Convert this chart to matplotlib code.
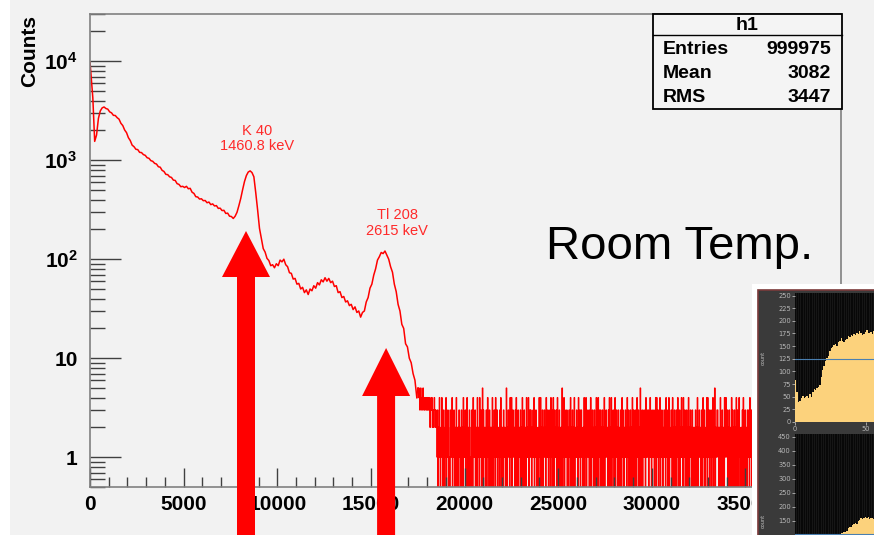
import numpy as np
import matplotlib
matplotlib.use('Agg')
import matplotlib.pyplot as plt
from matplotlib.patches import Rectangle, Polygon
from matplotlib.ticker import FixedLocator, NullFormatter

# ---- main spectrum (counts per bin), 100 channel bins from 0 to 17400
bin_width = 100
spectrum = [
    9800, 4300, 1550, 1800, 2650, 3150, 3380, 3450, 3330, 3280,
    3080, 3010, 2840, 2830, 2690, 2600, 2360, 2240, 2020, 1900,
    1690, 1580, 1420, 1370, 1290, 1280, 1200, 1195, 1140, 1120,
    1060, 1045, 990, 975, 930, 915, 860, 850, 790, 770,
    720, 715, 680, 670, 630, 625, 580, 570, 540, 545,
    530, 545, 515, 520, 475, 462, 428, 425, 405, 408,
    390, 392, 372, 378, 356, 362, 345, 348, 326, 328,
    310, 312, 290, 292, 272, 270, 258, 272, 298, 348,
    412, 505, 610, 700, 760, 780, 750, 680, 470, 315,
    205, 162, 128, 118, 102, 97, 86, 88, 82, 90,
    86, 98, 94, 100, 88, 84, 73, 72, 63, 64,
    56, 57, 50, 52, 46, 49, 44, 50, 48, 54,
    51, 58, 55, 62, 59, 65, 60, 64, 58, 60,
    53, 54, 46, 47, 41, 42, 37, 38, 34, 35,
    31, 33, 29, 30, 26, 29, 30, 37, 41, 51,
    56, 69, 80, 98, 106, 117, 114, 121, 110, 100,
    84, 74, 56, 47, 35, 30, 22, 20, 14, 13,
    10, 9, 7, 6, 4,
]

# ---- tail, 25 channel bins from 17500 (counts read as single digits)
tail_start = 17500
tail_width = 25
tail_counts = (
    "5454345344354343443434334323434232343232"
    "21302142012410231021402132010321240123102140212032"
    "12031204121302140120321013204121301204121042130150"
    "31210230142103120214012310421302120314021203121025"
    "02132104124013212031402130121302140213012041214023"
    "13201231402132012104124021301231204131203120413014"
    "20312130421031201250214031213012032140213021401213"
    "12041230132102140214012312031402132013021402140321"
    "30213012402132120314021402132014023120312013204132"
    "02131204213012302140312031204213021502130123120413"
    "21302141203121302140421302140213201231204132014021"
    "13204120312031240213021412042130213021402132013021"
    "02130214012312013204213012140421302130214021502123"
    "31202140213012041242130213012041302130214031204120"
    "12031402130120321304213021402140312013021402130212"
    "20413021301203124021402132014021302150213402130120"
    "13021302140213120321402130213012340214021302130214"
    "02130214021402130125021302130214031204120213021403"
    "21304213021402140213021302132014021402130213021302"
)

# ---- peak labels
peak_names = ["K 40\n1460.8 keV", "Tl 208\n2615 keV"]
peak_label_x = [8920, 16400]
peak_label_y = [1650, 232]
arrow_x = [8330, 15810]

# ---- stats box
stats_title = "h1"
stats_names = ["Entries", "Mean", "RMS"]
stats_values = ["999975", "3082", "3447"]

# ---- inset (second picture, two histograms)
inset_top = [84, 60, 40, 42, 48, 52, 47, 50, 52, 48, 55, 50, 60, 65, 64, 68,
             70, 74, 88, 102, 110, 120, 126, 130, 140, 146, 148, 152, 155,
             150, 158, 160, 167, 160, 158, 162, 165, 170, 168, 172, 170, 173,
             172, 175, 174, 180, 176, 172, 174, 178, 181, 176, 175, 178, 174,
             180]
inset_bottom = [12, 20, 25, 28, 30, 34, 36, 40, 42, 45, 48, 50, 52, 55, 58,
                60, 62, 66, 68, 70, 72, 75, 78, 82, 85, 88, 92, 95, 98, 100,
                102, 104, 106, 108, 110, 112, 115, 125, 130, 128, 135, 140,
                143, 138, 150, 155, 160, 158, 162, 165, 160, 163, 158, 160,
                162, 158]
inset_top_line = 125
inset_bottom_line = 105

plt.rcParams['mathtext.fontset'] = 'custom'
plt.rcParams['mathtext.bf'] = 'Liberation Sans:bold'
plt.rcParams['mathtext.rm'] = 'Liberation Sans:bold'

W, H = 874, 535
fig = plt.figure(figsize=(W / 100, H / 100), dpi=100, facecolor='#f2f2f2')
fig.patches.append(Rectangle((0, 0), 10 / W, 1, transform=fig.transFigure,
                             facecolor='white', edgecolor='none', zorder=0))


def fx(px):
    return px / W


def fy(py):
    return 1 - py / H


ax = fig.add_axes([fx(90), fy(487), fx(841) - fx(90), fy(14) - fy(487)])
ax.set_facecolor('#f2f2f2')

# smooth part as a line through bin centres, noisy tail as histogram steps
centers = np.arange(len(spectrum)) * bin_width + bin_width / 2
centers[0] = 0
ax.plot(centers, spectrum, color='red', lw=1.1)
tail = np.array([int(c) for c in tail_counts], dtype=float)
tail_edges = tail_start + np.arange(len(tail) + 1) * tail_width
tail = np.where(tail > 0, tail, 0.05)
ax.stairs(tail, tail_edges, color='red', lw=0.9, baseline=None)
ax.plot([centers[-1], tail_start], [spectrum[-1], tail[0]], color='red',
        lw=1.0)

ax.set_yscale('log')
ax.set_xlim(0, 40100)
ax.set_ylim(0.5, 3.0e4)

for s in ax.spines.values():
    s.set_color('#808080')
    s.set_linewidth(1.2)

bold = dict(family='Liberation Sans', weight='bold', size=15)
ax.set_xticks(np.arange(0, 35001, 5000))
ax.set_xticklabels([str(v) for v in range(0, 35001, 5000)], **bold)
ax.xaxis.set_minor_locator(FixedLocator(np.arange(0, 40001, 1000)))
ax.tick_params(axis='x', which='major', direction='in', length=14, width=1,
               color='#404040', pad=6)
ax.tick_params(axis='x', which='minor', direction='in', length=7, width=1,
               color='#404040')

ax.yaxis.set_major_locator(FixedLocator([1, 10, 100, 1000, 10000]))
ax.set_yticklabels(['1', '10', r'$\mathbf{10^{2}}$', r'$\mathbf{10^{3}}$',
                    r'$\mathbf{10^{4}}$'], **bold)
minors = [m * 10.0 ** d for d in range(-1, 5) for m in range(2, 10)]
ax.yaxis.set_minor_locator(FixedLocator(minors))
ax.yaxis.set_minor_formatter(NullFormatter())
ax.tick_params(axis='y', which='major', direction='in', length=22, width=1,
               color='#404040', pad=9)
ax.tick_params(axis='y', which='minor', direction='in', length=11, width=1,
               color='#404040')

fig.text(fx(30), fy(51), 'Counts', rotation=90, ha='center', va='center',
         **bold)

for name, lx, ly in zip(peak_names, peak_label_x, peak_label_y):
    ax.text(lx, ly, name, color='#ff2a2a', ha='center', va='center',
            family='Liberation Sans', size=10.5, linespacing=1.1)

fig.text(fx(680), fy(247), 'Room Temp.', ha='center', va='center',
         family='Liberation Sans', size=34, color='black')

# stats box
bx0, by0, bx1, by1 = fx(653), fy(109), fx(842), fy(14)
fig.patches.append(Rectangle((bx0, by0), bx1 - bx0, by1 - by0,
                             transform=fig.transFigure, facecolor='#f4f4f4',
                             edgecolor='black', lw=1.3, zorder=5))
fig.lines.append(plt.Line2D([bx0, bx1], [fy(35), fy(35)],
                            transform=fig.transFigure, color='black',
                            lw=1.0, zorder=6))
sbold = dict(family='Liberation Sans', weight='bold', size=14, zorder=7)
fig.text((bx0 + bx1) / 2, fy(25), stats_title, ha='center', va='center',
         **sbold)
for i, (n, v) in enumerate(zip(stats_names, stats_values)):
    yy = fy(50 + 23.5 * i)
    fig.text(fx(663), yy, n, ha='left', va='center', **sbold)
    fig.text(fx(831), yy, v, ha='right', va='center', **sbold)

# red arrows (pointing at the peaks)
for i, axx in enumerate(arrow_x):
    cx = ax.transData.transform((axx, 1))[0]
    if i == 0:
        tip, base = 231, 277
    else:
        tip, base = 348, 396
    hw, sw = 24, 9
    pts = [(cx - sw, H), (cx - sw, base), (cx - hw, base), (cx, tip),
           (cx + hw, base), (cx + sw, base), (cx + sw, H)]
    pts = [(fx(p[0]), fy(p[1])) for p in pts]
    fig.patches.append(Polygon(pts, closed=True, transform=fig.transFigure,
                               facecolor='#ff0000', edgecolor='none',
                               zorder=8))

# inset picture
fig.patches.append(Rectangle((fx(752), 0), 1 - fx(752), fy(284),
                             transform=fig.transFigure, facecolor='white',
                             edgecolor='none', zorder=9))
fig.patches.append(Rectangle((fx(758), -0.01), 1 - fx(758) + 0.01,
                             fy(290) + 0.01, transform=fig.transFigure,
                             facecolor='#3a3a3a', edgecolor='#7a3a3a',
                             lw=1.2, zorder=9))

for k, (data, line, top, bottom, ymax, step, ymin_tick) in enumerate([
        (inset_top, inset_top_line, 293, 422, 255, 25, 0),
        (inset_bottom, inset_bottom_line, 434, 563, 460, 50, 150)]):
    iax = fig.add_axes([fx(795), fy(bottom), 1 - fx(795), fy(top) - fy(bottom)],
                       zorder=10)
    iax.set_facecolor('#080808')
    for xv in np.arange(0.5, 56, 1.6):
        iax.axvline(xv, color='#161616', lw=0.8, zorder=0)
    iax.stairs(data, np.arange(len(data) + 1), fill=True, color='#fcd27c',
               zorder=2)
    iax.axhline(line, color='#4a7fb0', lw=0.8, zorder=3)
    iax.set_xlim(0, 55.5)
    iax.set_ylim(0, ymax)
    iax.set_yticks(np.arange(ymin_tick, ymax, step))
    iax.set_yticklabels([str(v) for v in range(ymin_tick, ymax, step)])
    if k == 0:
        iax.set_xticks([0, 50])
        iax.set_xticklabels(['0', '50'])
    else:
        iax.set_xticks([])
    iax.tick_params(colors='#b8b8b8', labelsize=4.8, length=2, width=0.6,
                    pad=1)
    for s in iax.spines.values():
        s.set_visible(False)
    fig.text(fx(763), fy((top + bottom) / 2 if k == 0 else 521), 'count',
             rotation=90, ha='center', va='center', size=3.6,
             color='#c0c0c0', zorder=11)

fig.savefig('out.png', dpi=100, facecolor=fig.get_facecolor())
